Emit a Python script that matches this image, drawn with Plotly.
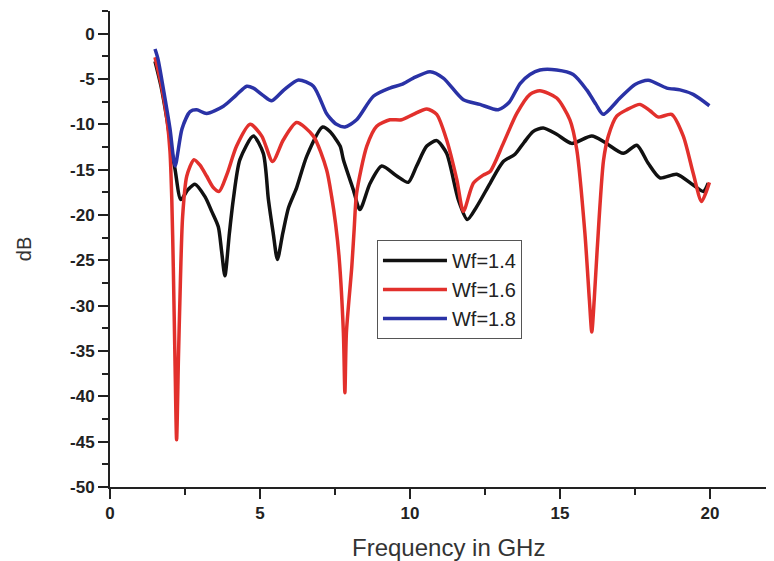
import plotly.graph_objects as go

# ---- data ----
freq_14 = [1.5, 1.7, 1.9, 2.05, 2.17, 2.36, 2.6, 2.83, 3.17, 3.39, 3.61, 3.72, 3.83, 3.98, 4.11, 4.33,
           4.78, 5.11, 5.28, 5.44, 5.58, 5.76, 5.95, 6.22, 6.56, 7.09, 7.33, 7.67, 7.78, 8.11, 8.33,
           8.67, 9.06, 9.56, 9.94, 10.22, 10.56, 10.89, 11.22, 11.61, 11.91, 12.22, 12.67, 13.11,
           13.5, 13.8, 14.1, 14.44, 14.89, 15.39, 16.06, 16.5, 17.11, 17.56, 17.94, 18.33, 18.89,
           19.44, 19.78, 19.94]
db_14 = [-3.05, -5.8, -9.5, -12.8, -15.0, -18.3, -17.2, -16.6, -18.0, -19.6, -21.3, -24.0, -26.7, -22.0,
         -18.3, -13.9, -11.3, -13.2, -18.3, -22.0, -24.9, -22.0, -19.2, -17.0, -13.5, -10.3, -10.8,
         -12.4, -13.9, -17.2, -19.4, -16.5, -14.6, -15.7, -16.4, -14.6, -12.4, -11.8, -13.2, -18.3,
         -20.5, -19.1, -16.5, -14.1, -13.3, -12.0, -10.8, -10.4, -11.1, -12.1, -11.3, -12.0, -13.2,
         -12.3, -14.3, -15.9, -15.5, -16.7, -17.4, -16.5]

freq_16 = [1.5, 1.7, 1.9, 2.0, 2.06, 2.11, 2.17, 2.22, 2.28, 2.33, 2.42, 2.56, 2.8, 3.0, 3.22, 3.45,
           3.64, 3.9, 4.22, 4.67, 5.06, 5.42, 5.78, 6.22, 6.78, 7.22, 7.39, 7.52, 7.64, 7.78, 7.83,
           7.88, 8.06, 8.14, 8.22, 8.56, 8.89, 9.33, 9.72, 10.11, 10.56, 10.89, 11.22, 11.56, 11.78,
           12.11, 12.44, 12.67, 13.11, 13.56, 14.0, 14.33, 14.89, 15.33, 15.56, 15.83, 15.98, 16.06,
           16.14, 16.24, 16.45, 16.61, 16.89, 17.22, 17.67, 18.0, 18.28, 18.72, 19.11, 19.44, 19.72,
           19.98]
db_16 = [-2.6, -5.5, -9.5, -13.0, -18.3, -25.7, -36.7, -44.8, -36.0, -29.4, -20.2, -15.7, -13.9, -14.5,
         -15.7, -17.0, -17.4, -15.5, -12.4, -10.0, -11.3, -14.1, -11.7, -9.8, -11.3, -15.0, -18.0,
         -21.0, -24.8, -33.0, -39.6, -33.0, -25.7, -21.5, -17.6, -12.4, -10.2, -9.5, -9.5, -8.9,
         -8.3, -8.9, -11.7, -16.1, -19.6, -16.5, -15.6, -15.2, -12.1, -8.8, -6.7, -6.3, -7.1, -9.5,
         -12.8, -22.0, -29.4, -32.9, -29.4, -23.8, -14.0, -11.3, -9.1, -8.4, -7.8, -8.5, -9.2, -8.9,
         -11.3, -15.4, -18.5, -16.4]

freq_18 = [1.5, 1.6, 1.8, 2.0, 2.17, 2.4, 2.67, 2.89, 3.22, 3.78, 4.2, 4.56, 4.78, 5.1, 5.39, 5.8,
           6.28, 6.78, 7.2, 7.33, 7.55, 7.83, 8.22, 8.78, 9.33, 9.72, 10.11, 10.67, 11.11, 11.78,
           12.33, 12.94, 13.3, 13.67, 14.0, 14.33, 14.89, 15.44, 15.89, 16.2, 16.44, 17.0, 17.5,
           17.94, 18.56, 19.0, 19.44, 19.98]
db_18 = [-1.7, -2.8, -6.5, -10.5, -14.6, -10.5, -8.6, -8.4, -8.8, -8.0, -6.8, -5.8, -6.0, -6.8, -7.4,
         -6.2, -5.1, -5.8, -8.7, -9.3, -10.0, -10.3, -9.5, -6.9, -6.0, -5.6, -4.9, -4.2, -4.9, -7.3,
         -7.8, -8.4, -7.6, -5.5, -4.5, -4.0, -4.0, -4.5, -6.2, -7.8, -8.9, -7.1, -5.6, -5.15, -6.0,
         -6.2, -6.7, -7.95]

series_names = ["Wf=1.4", "Wf=1.6", "Wf=1.8"]
series_colors = ["#111111", "#e2302c", "#2a32a6"]

x_ticks = [0, 5, 10, 15, 20]
y_ticks = [0, -5, -10, -15, -20, -25, -30, -35, -40, -45, -50]

FONT = "Arial, Liberation Sans, Helvetica, sans-serif"

fig = go.Figure()
for name, color, xs, ys in zip(series_names, series_colors,
                               [freq_14, freq_16, freq_18], [db_14, db_16, db_18]):
    fig.add_trace(go.Scatter(x=xs, y=ys, mode="lines", name=name,
                             line=dict(color=color, width=3.5, shape="spline", smoothing=0.7)))

axis_common = dict(
    showline=True, linecolor="#222222", linewidth=2,
    ticks="outside", ticklen=10, tickwidth=2, tickcolor="#222222",
    showgrid=False, zeroline=False,
    tickfont=dict(family=FONT, size=17, color="#222222", weight="bold"),
)

fig.update_layout(
    width=766, height=553,
    margin=dict(l=102, r=4, t=3, b=74, autoexpand=False),
    paper_bgcolor="white", plot_bgcolor="white",
    font=dict(family=FONT, color="#222222"),
    xaxis=dict(range=[0, 22], tickvals=x_ticks, ticktext=[str(v) for v in x_ticks],
               minor=dict(ticks="outside", ticklen=6, tickwidth=2, tickcolor="#222222", dtick=2.5),
               **axis_common),
    yaxis=dict(range=[-50, 2.5], tickvals=y_ticks, ticktext=[str(v) for v in y_ticks],
               minor=dict(ticks="outside", ticklen=6, tickwidth=2, tickcolor="#222222", dtick=2.5),
               title=dict(text="dB", font=dict(family=FONT, size=20, color="#333333"), standoff=33),
               **axis_common),
    legend=dict(x=0.4045, y=0.5190, xanchor="left", yanchor="top",
                bgcolor="white", bordercolor="#555555", borderwidth=1,
                font=dict(family=FONT, size=20, color="#222222"),
                itemwidth=64, tracegroupgap=0),
    showlegend=True,
    annotations=[dict(text="Frequency in GHz", xref="paper", yref="paper",
                      x=0.5136, y=-0.128, xanchor="center", yanchor="middle", showarrow=False,
                      font=dict(family=FONT, size=24, color="#333333"))],
)

fig.write_html("out.html")
